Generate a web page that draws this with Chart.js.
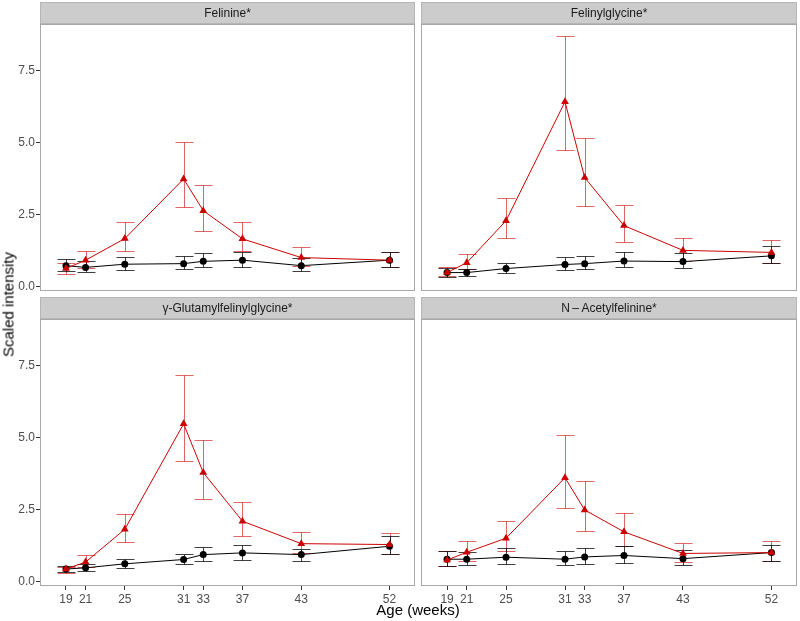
<!DOCTYPE html>
<html lang="en">
<head>
  <meta charset="utf-8"/>
  <title>Scaled intensity by age</title>
  <script src="https://cdn.jsdelivr.net/npm/chart.js@4.4.1/dist/chart.umd.min.js"></script>
  <style>
    body{margin:0;background:#fff;font-family:"Liberation Sans",Arial,sans-serif;}
    #wrap{position:relative;width:800px;height:621px;}
    #wrap canvas{position:absolute;left:0;top:0;}
    .ytitle{position:absolute;left:-52px;top:296px;width:120px;text-align:center;font-size:15px;color:#000;transform:rotate(-90deg);}
    .xtitle{position:absolute;left:338px;top:601px;width:160px;text-align:center;font-size:15px;color:#000;}
  </style>
</head>
<body>
<div id="wrap">
  <canvas id="c1" width="800" height="621"></canvas>
  <canvas id="c2" width="800" height="621"></canvas>
  <canvas id="c3" width="800" height="621"></canvas>
  <canvas id="c4" width="800" height="621"></canvas>
  <div class="ytitle">Scaled intensity</div>
  <div class="xtitle">Age (weeks)</div>
</div>
<script>
  // weeks of age, shared by all panels
  var weeks = [19, 21, 25, 31, 33, 37, 43, 52];
  var yTicks = [0, 2.5, 5, 7.5];

  // Felinine*
  var felinineCtrl   = [0.74, 0.68, 0.79, 0.81, 0.89, 0.93, 0.74, 0.93];
  var felinineCtrlLo = [0.57, 0.51, 0.59, 0.64, 0.68, 0.71, 0.57, 0.69];
  var felinineCtrlHi = [0.98, 0.89, 1.04, 1.09, 1.18, 1.20, 1.00, 1.23];
  var felinineTrt    = [0.64, 0.93, 1.68, 3.75, 2.65, 1.67, 1.02, 0.93];
  var felinineTrtLo  = [0.45, 0.67, 1.25, 2.79, 1.96, 1.24, 0.74, 0.69];
  var felinineTrtHi  = [0.84, 1.24, 2.26, 5.03, 3.53, 2.25, 1.38, 1.23];

  // Felinylglycine*
  var felgCtrl   = [0.50, 0.50, 0.64, 0.78, 0.81, 0.90, 0.88, 1.08];
  var felgCtrlLo = [0.36, 0.38, 0.47, 0.59, 0.61, 0.68, 0.66, 0.82];
  var felgCtrlHi = [0.66, 0.64, 0.84, 1.04, 1.09, 1.20, 1.18, 1.43];
  var felgTrt    = [0.50, 0.84, 2.30, 6.43, 3.80, 2.13, 1.27, 1.20];
  var felgTrtLo  = [0.38, 0.64, 1.69, 4.76, 2.81, 1.55, 0.90, 0.82];
  var felgTrtHi  = [0.68, 1.15, 3.10, 8.73, 5.16, 2.85, 1.71, 1.62];

  // gamma-Glutamylfelinylglycine*
  var gluCtrl   = [0.45, 0.49, 0.63, 0.78, 0.95, 1.01, 0.95, 1.24];
  var gluCtrlLo = [0.34, 0.38, 0.49, 0.61, 0.74, 0.78, 0.74, 0.97];
  var gluCtrlHi = [0.57, 0.61, 0.80, 0.97, 1.22, 1.28, 1.16, 1.60];
  var gluTrt    = [0.45, 0.69, 1.83, 5.49, 3.80, 2.11, 1.33, 1.30];
  var gluTrtLo  = [0.31, 0.52, 1.40, 4.19, 2.88, 1.61, 1.00, 0.97];
  var gluTrtHi  = [0.52, 0.93, 2.37, 7.19, 4.94, 2.76, 1.74, 1.70];

  // N-Acetylfelinine*
  var acetCtrl   = [0.79, 0.79, 0.86, 0.79, 0.87, 0.92, 0.81, 1.02];
  var acetCtrlLo = [0.57, 0.58, 0.63, 0.58, 0.63, 0.66, 0.59, 0.74];
  var acetCtrlHi = [1.08, 1.03, 1.17, 1.08, 1.18, 1.24, 1.10, 1.30];
  var acetTrt    = [0.76, 1.03, 1.52, 3.62, 2.50, 1.74, 0.99, 1.02];
  var acetTrtLo  = [0.57, 0.72, 1.08, 2.57, 1.78, 1.24, 0.71, 0.74];
  var acetTrtHi  = [1.08, 1.42, 2.12, 5.09, 3.51, 2.41, 1.37, 1.41];

  var FONT = '"Liberation Sans", Arial, sans-serif';

  function pts(vals, lo, hi) {
    return weeks.map(function(w, i){ return {x: w, y: vals[i], lo: lo[i], hi: hi[i]}; });
  }

  // error bars + panel frame + strip header
  var facetPlugin = {
    id: 'facet',
    beforeDatasetsDraw: function(chart) {
      var ctx = chart.ctx, xs = chart.scales.x, ys = chart.scales.y;
      chart.data.datasets.forEach(function(ds) {
        ctx.save();
        ctx.strokeStyle = ds.errColor;
        ctx.lineWidth = 1;
        ds.data.forEach(function(p) {
          var x = Math.round(xs.getPixelForValue(p.x)) + 0.5;
          var y1 = Math.round(ys.getPixelForValue(p.hi)) + 0.5;
          var y2 = Math.round(ys.getPixelForValue(p.lo)) + 0.5;
          ctx.beginPath();
          ctx.moveTo(x, y1); ctx.lineTo(x, y2);
          ctx.moveTo(x - 9, y1); ctx.lineTo(x + 9, y1);
          ctx.moveTo(x - 9, y2); ctx.lineTo(x + 9, y2);
          ctx.stroke();
        });
        ctx.restore();
      });
    },
    afterDraw: function(chart) {
      var ctx = chart.ctx, a = chart.chartArea;
      ctx.save();
      ctx.strokeStyle = '#a8a8a8';
      ctx.lineWidth = 1;
      ctx.strokeRect(a.left + 0.5, a.top + 0.5, a.right - a.left - 1, a.bottom - a.top - 1);
      ctx.fillStyle = '#cccccc';
      ctx.fillRect(a.left, a.top - 22, a.right - a.left, 22);
      ctx.strokeStyle = '#b5b5b5';
      ctx.strokeRect(a.left + 0.5, a.top - 21.5, a.right - a.left - 1, 21);
      ctx.fillStyle = '#1a1a1a';
      ctx.font = '12px ' + FONT;
      ctx.textAlign = 'center';
      ctx.textBaseline = 'middle';
      ctx.fillText(chart.options.plugins.facet.title, (a.left + a.right) / 2, a.top - 10.5);
      ctx.restore();
    }
  };

  function makePanel(id, title, ctrl, trt, pad, showX, showY) {
    return new Chart(document.getElementById(id), {
      type: 'line',
      data: {
        datasets: [
          { data: trt, borderColor: '#cc0000', backgroundColor: '#cc0000', borderWidth: 1,
            pointStyle: 'triangle', pointRadius: 4.5, pointBorderWidth: 0, errColor: 'rgba(204,0,0,0.6)' },
          { data: ctrl, borderColor: '#000000', backgroundColor: '#000000', borderWidth: 1,
            pointStyle: 'circle', pointRadius: 3.5, pointBorderWidth: 0, errColor: 'rgba(0,0,0,0.75)' }
        ]
      },
      options: {
        responsive: false,
        animation: false,
        layout: { padding: pad, autoPadding: false },
        plugins: { legend: { display: false }, tooltip: { enabled: false }, facet: { title: title } },
        scales: {
          x: {
            type: 'linear', min: 16.35, max: 54.6, display: showX,
            afterBuildTicks: function(s){ s.ticks = weeks.map(function(w){ return {value: w}; }); },
            afterFit: function(s){ s.height = showX ? 22 : 0; },
            border: { display: false },
            grid: { drawOnChartArea: false, drawTicks: true, tickLength: 4, color: '#333333' },
            ticks: { color: '#4d4d4d', font: { size: 12, family: FONT }, padding: 2, maxRotation: 0, autoSkip: false }
          },
          y: {
            min: -0.14, max: 9.13, display: showY,
            afterBuildTicks: function(s){ s.ticks = yTicks.map(function(v){ return {value: v}; }); },
            afterFit: function(s){ s.width = showY ? 40 : 0; },
            border: { display: false },
            grid: { drawOnChartArea: false, drawTicks: true, tickLength: 4, color: '#333333' },
            ticks: { color: '#4d4d4d', font: { size: 12, family: FONT }, padding: 1,
                     callback: function(v){ return Number(v).toFixed(1); } }
          }
        }
      },
      plugins: [facetPlugin]
    });
  }

  makePanel('c1', 'Felinine*',
    pts(felinineCtrl, felinineCtrlLo, felinineCtrlHi), pts(felinineTrt, felinineTrtLo, felinineTrtHi),
    { left: 0, top: 24, right: 385, bottom: 330 }, false, true);
  makePanel('c2', 'Felinylglycine*',
    pts(felgCtrl, felgCtrlLo, felgCtrlHi), pts(felgTrt, felgTrtLo, felgTrtHi),
    { left: 421, top: 24, right: 3, bottom: 330 }, false, false);
  makePanel('c3', '\u03B3-Glutamylfelinylglycine*',
    pts(gluCtrl, gluCtrlLo, gluCtrlHi), pts(gluTrt, gluTrtLo, gluTrtHi),
    { left: 0, top: 319, right: 385, bottom: 13 }, true, true);
  makePanel('c4', 'N\u2009\u2013\u2009Acetylfelinine*',
    pts(acetCtrl, acetCtrlLo, acetCtrlHi), pts(acetTrt, acetTrtLo, acetTrtHi),
    { left: 421, top: 319, right: 3, bottom: 13 }, true, false);
</script>
</body>
</html>
